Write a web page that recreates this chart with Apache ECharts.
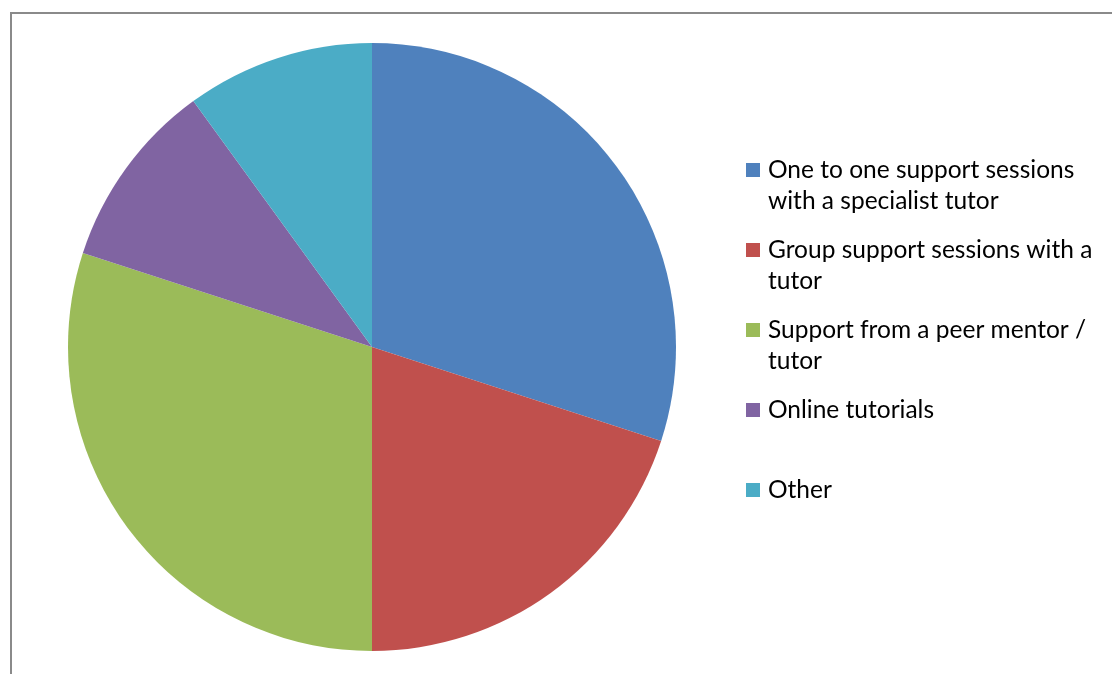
<!DOCTYPE html>
<html>
<head>
<meta charset="utf-8">
<script src="https://cdn.jsdelivr.net/npm/echarts@6/dist/echarts.min.js"></script>
<style>
  html, body { margin: 0; padding: 0; background: #fff; }
  #chart { width: 1112px; height: 674px; }
</style>
</head>
<body>
<div id="chart"></div>
<script>
// Preferred kinds of study support (share of responses)
const categories = [
  'One to one support sessions with a specialist tutor',
  'Group support sessions with a tutor',
  'Support from a peer mentor / tutor',
  'Online tutorials',
  'Other'
];
const values = [30, 20, 30, 10, 10];
const colors = ['#4F81BD', '#C0504D', '#9BBB59', '#8064A2', '#4BACC6'];

const FONT = 'Lato';
const FONT_SIZE = 24.5;
const LINE_H = 31;
const TEXT_W = 338;
// vertical centre of each legend marker (first text line sits on it)
const legendCenters = [170, 250, 330, 410, 490];

// word-wrap a label to the legend width
const measureCtx = document.createElement('canvas').getContext('2d');
measureCtx.font = FONT_SIZE + 'px ' + FONT;
function wrap(text) {
  const lines = [];
  let cur = '';
  text.split(' ').forEach(w => {
    const t = cur ? cur + ' ' + w : w;
    if (measureCtx.measureText(t).width > TEXT_W && cur) { lines.push(cur); cur = w; } else { cur = t; }
  });
  lines.push(cur);
  return lines;
}
// The legend centres a label block on its marker; leading blank lines
// push the first real line onto the marker instead.
function legendLabel(name) {
  const lines = wrap(name);
  return new Array(lines.length - 1).fill('').concat(lines).join('\n');
}

const chart = echarts.init(document.getElementById('chart'), null, { renderer: 'canvas' });

// One legend block per entry so each sits in its own fixed slot.
const legends = categories.map((name, i) => {
  const n = wrap(name).length;
  const blockH = (2 * n - 1) * LINE_H;
  return {
    data: [name],
    left: 746,
    top: legendCenters[i] - blockH / 2,
    padding: 0,
    orient: 'vertical',
    icon: 'rect',
    itemWidth: 14,
    itemHeight: 14,
    selectedMode: false,
    formatter: legendLabel,
    textStyle: {
      fontFamily: FONT,
      fontSize: FONT_SIZE,
      color: '#000',
      lineHeight: LINE_H,
      padding: [0, 0, 0, 3]
    }
  };
});

chart.setOption({
  animation: false,
  color: colors,
  legend: legends,
  graphic: [
    { type: 'line', shape: { x1: 11, y1: 12, x2: 11, y2: 674 }, style: { stroke: '#8a8a8a', lineWidth: 2 } },
    { type: 'line', shape: { x1: 10, y1: 13, x2: 1112, y2: 13 }, style: { stroke: '#8a8a8a', lineWidth: 2 } }
  ],
  series: [{
    type: 'pie',
    center: [372, 347],
    radius: 304,
    startAngle: 90,
    clockwise: true,
    label: { show: false },
    labelLine: { show: false },
    emphasis: { disabled: true },
    itemStyle: { borderWidth: 0 },
    data: categories.map((name, i) => ({ name, value: values[i] }))
  }]
});
</script>
</body>
</html>
